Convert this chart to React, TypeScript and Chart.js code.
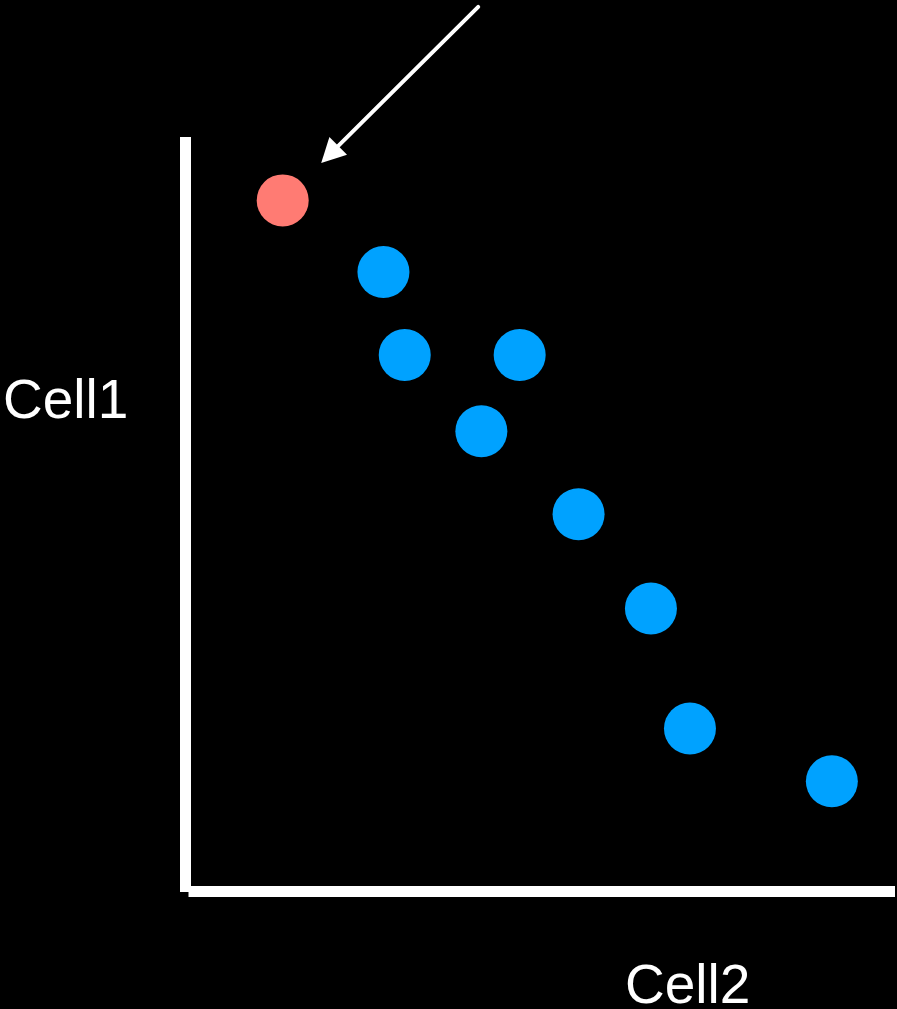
import React, { useEffect, useRef } from "react";
import { Chart, registerables } from "chart.js";

Chart.register(...registerables);

const highlightX = [1.37];
const highlightY = [9.16];
const cellX = [2.79, 3.09, 4.71, 4.17, 5.54, 6.56, 7.11, 9.11];
const cellY = [8.21, 7.11, 7.11, 6.1, 5.0, 3.75, 2.16, 1.46];
const xLabel = "Cell2";
const yLabel = "Cell1";

const WIDTH = 897;
const HEIGHT = 1009;

const decorPlugin = {
  id: "decor",
  beforeDatasetsDraw(chart: any) {
    const { ctx, chartArea } = chart;
    const { left, right, top, bottom } = chartArea;
    ctx.save();
    ctx.fillStyle = "#ffffff";
    // vertical axis
    ctx.fillRect(left - 5.5, top, 11, bottom - top + 0.5);
    // horizontal axis
    ctx.fillRect(left + 3, bottom - 5.5, right - left - 3, 11);
    ctx.restore();
  },
  afterDatasetsDraw(chart: any) {
    const { ctx } = chart;
    const meta = chart.getDatasetMeta(0);
    const pt = meta.data[0];
    if (pt) {
      const tipX = pt.x + 38.5;
      const tipY = pt.y - 37.5;
      const startX = tipX + 157;
      const startY = tipY - 156;
      const dx = tipX - startX;
      const dy = tipY - startY;
      const len = Math.sqrt(dx * dx + dy * dy);
      const ux = dx / len;
      const uy = dy / len;
      const headLen = 24;
      const halfW = 12.5;
      const bx = tipX - ux * headLen;
      const by = tipY - uy * headLen;
      ctx.save();
      ctx.strokeStyle = "#ffffff";
      ctx.fillStyle = "#ffffff";
      ctx.lineWidth = 4;
      ctx.lineCap = "round";
      ctx.beginPath();
      ctx.moveTo(startX, startY);
      ctx.lineTo(bx + ux * 2, by + uy * 2);
      ctx.stroke();
      ctx.beginPath();
      ctx.moveTo(tipX, tipY);
      ctx.lineTo(bx - uy * halfW, by + ux * halfW);
      ctx.lineTo(bx + uy * halfW, by - ux * halfW);
      ctx.closePath();
      ctx.fill();
      ctx.restore();
    }
    ctx.save();
    ctx.fillStyle = "#ffffff";
    ctx.font = '55px "Liberation Sans", Arial, sans-serif';
    ctx.textBaseline = "alphabetic";
    ctx.textAlign = "left";
    ctx.fillText(yLabel, 3, 418);
    ctx.fillText(xLabel, 625, 1003);
    ctx.restore();
  },
};

export default function App() {
  const canvasRef = useRef<HTMLCanvasElement | null>(null);

  useEffect(() => {
    document.body.style.margin = "0";
    document.body.style.background = "#000000";
    const canvas = canvasRef.current;
    if (!canvas) return;
    const chart = new Chart(canvas, {
      type: "scatter",
      data: {
        datasets: [
          {
            label: "highlight",
            data: highlightX.map((x, i) => ({ x, y: highlightY[i] })),
            backgroundColor: "#ff7b73",
            borderColor: "#ff7b73",
            borderWidth: 0,
            pointRadius: 26,
            pointHoverRadius: 26,
          },
          {
            label: "cells",
            data: cellX.map((x, i) => ({ x, y: cellY[i] })),
            backgroundColor: "#00a2ff",
            borderColor: "#00a2ff",
            borderWidth: 0,
            pointRadius: 26,
            pointHoverRadius: 26,
          },
        ],
      },
      options: {
        responsive: false,
        animation: false,
        clip: false as any,
        layout: {
          autoPadding: false,
          padding: { left: 185.5, top: 137, right: 2, bottom: 117.5 },
        },
        plugins: {
          legend: { display: false },
          tooltip: { enabled: false },
        },
        events: [],
        scales: {
          x: { type: "linear", min: 0, max: 10, display: false },
          y: { type: "linear", min: 0, max: 10, display: false },
        },
      },
      plugins: [decorPlugin],
    });
    return () => chart.destroy();
  }, []);

  return (
    <div style={{ width: WIDTH, height: HEIGHT, background: "#000000" }}>
      <canvas ref={canvasRef} width={WIDTH} height={HEIGHT} style={{ display: "block" }} />
    </div>
  );
}
